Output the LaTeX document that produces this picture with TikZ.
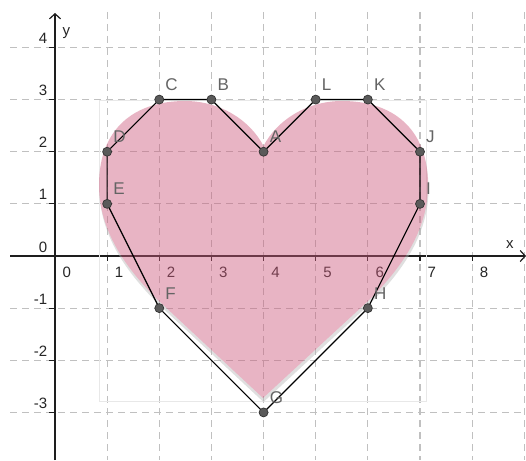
\documentclass[tikz,border=0pt]{standalone}
\usepackage{fontspec}
\setmainfont{Liberation Sans}
\usetikzlibrary{arrows.meta}
\definecolor{gridc}{RGB}{192,192,192}
\definecolor{heartc}{RGB}{205,90,125}
\definecolor{shadowc}{RGB}{185,185,185}
\definecolor{axisc}{RGB}{30,30,30}
\definecolor{ptfill}{RGB}{90,90,90}
\definecolor{lblc}{RGB}{100,100,100}
\tikzset{
  gridline/.style={gridc, line width=1.2pt, dash pattern=on 7pt off 5pt},
  axisline/.style={axisc, line width=1.3pt},
  axisarrow/.style={-{Straight Barb[length=5pt,width=11pt,line width=1.2pt]}},
  tickmark/.style={axisc, line width=1.2pt},
  ticklbl/.style={font=\fontsize{15}{15}\selectfont, text=black!85, inner sep=0pt},
  ptlbl/.style={font=\fontsize{17}{17}\selectfont, text=lblc, inner sep=0pt, anchor=base west, xshift=6pt, yshift=9pt},
  pt/.style={circle, fill=ptfill, draw=black!80, line width=0.7pt, minimum size=9pt, inner sep=0pt},
  polyedge/.style={black, line width=1.2pt, line join=round},
  imgframe/.style={gray!18, line width=0.6pt},
}
\begin{document}
\begin{tikzpicture}[x=1pt,y=-1pt]
\useasboundingbox (0,0) rectangle (526,460);
\fill[white] (0,0) rectangle (526,460);
% grid
\foreach \i in {1,...,9}
  \draw[gridline] ({55+52.14*\i},12) -- ({55+52.14*\i},460);
\foreach \j in {4,3,2,1,-1,-2,-3}
  \draw[gridline] (10,{256-52.14*\j}) -- (526,{256-52.14*\j});
% axes
\draw[axisline, axisarrow] (10,256) -- (526,256);
\draw[axisline, axisarrow] (55,460) -- (55,13);
\foreach \i in {1,...,8}
  \draw[tickmark] ({55+52.14*\i},256) -- ({55+52.14*\i},261);
\foreach \j in {4,3,2,1,-1,-2,-3}
  \draw[tickmark] (55,{256-52.14*\j}) -- (49,{256-52.14*\j});
% tick labels
\foreach \i in {0,...,8}
  \node[ticklbl, anchor=base west] (xl\i) at ({55+52.14*\i+7.5},277.5) {\i};
\foreach \j in {4,3,2,1,0,-1,-2,-3}
  \node[ticklbl, anchor=base east] (yl\j) at (47.5,{256-52.14*\j-4}) {\j};
\node[ticklbl, anchor=base west] (xlab) at (506,248) {x};
\node[ticklbl, anchor=base west] (ylab) at (62.5,36) {y};
% image frame
\draw[imgframe] (99,100.5) rectangle (426,401);
% heart image
\begin{scope}[transparency group, opacity=0.45]
  \fill[shadowc, shift={(0.5,4)}] (263,398) -- (160,302) .. controls (125,268) and (99,230) .. (99,185)
    .. controls (99,128) and (135,101) .. (185,101) .. controls (220,101) and (250,120) .. (263.5,146)
    .. controls (277,120) and (307,101) .. (342,101) .. controls (392,101) and (428,128) .. (428,185)
    .. controls (428,230) and (402,268) .. (367,302) -- cycle;
  \fill[heartc] (263,398) -- (160,302) .. controls (125,268) and (99,230) .. (99,185)
    .. controls (99,128) and (135,101) .. (185,101) .. controls (220,101) and (250,120) .. (263.5,146)
    .. controls (277,120) and (307,101) .. (342,101) .. controls (392,101) and (428,128) .. (428,185)
    .. controls (428,230) and (402,268) .. (367,302) -- cycle;
\end{scope}
% polygon
\begin{scope}[shift={(55,256)}, x=52.14pt, y=52.14pt]
  \coordinate (A) at (4,2);
  \coordinate (B) at (3,3);
  \coordinate (C) at (2,3);
  \coordinate (D) at (1,2);
  \coordinate (E) at (1,1);
  \coordinate (F) at (2,-1);
  \coordinate (G) at (4,-3);
  \coordinate (H) at (6,-1);
  \coordinate (I) at (7,1);
  \coordinate (J) at (7,2);
  \coordinate (K) at (6,3);
  \coordinate (L) at (5,3);
  \draw[polyedge] (A) -- (B) -- (C) -- (D) -- (E) -- (F) -- (G) -- (H) -- (I) -- (J) -- (K) -- (L) -- cycle;
  \foreach \p in {A,B,C,D,E,F,G,H,I,J,K,L} {
    \node[pt] (n\p) at (\p) {};
    \node[ptlbl] (l\p) at (\p) {\p};
  }
\end{scope}
\end{tikzpicture}
\end{document}
